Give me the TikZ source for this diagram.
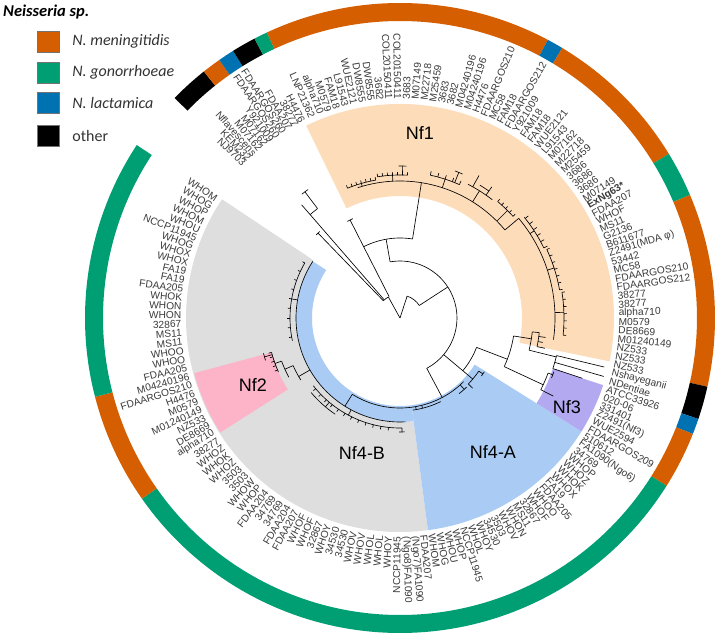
\documentclass[tikz,border=0pt]{standalone}
\usepackage{fontspec}
\setmainfont{Liberation Sans}
\newfontfamily\legfont{Carlito}
\usetikzlibrary{positioning}
\definecolor{nmOrange}{HTML}{D55E00}
\definecolor{ngGreen}{HTML}{009E73}
\definecolor{nlBlue}{HTML}{0072B2}
\definecolor{cladePeach}{HTML}{FDDCBA}
\definecolor{cladePink}{HTML}{FDB4C8}
\definecolor{cladeLav}{HTML}{B3A9F1}
\definecolor{cladeBlue}{HTML}{AACBF3}
\definecolor{cladeGray}{HTML}{DEDEDE}
\definecolor{leafInk}{HTML}{3A3A3A}
\tikzset{
  branch/.style={draw=black, line width=0.65pt},
  leaf/.style={font=\fontsize{10.2}{12}\selectfont, text=leafInk, inner sep=0.6pt},
  clade label/.style={font=\fontsize{18}{20}\selectfont, text=black},
  legend box/.style={draw=black!55, line width=0.4pt, minimum width=22pt, minimum height=21pt, inner sep=0pt},
  legend text/.style={font=\legfont\itshape\fontsize{16}{18}\selectfont, text=black!80, anchor=west, inner sep=0pt}
}
% filled annular sector: colour, inner r, outer r, from, to
\newcommand\sector[5]{\fill[#1] (#4:#2pt) arc[start angle=#4, end angle=#5, radius=#2pt] -- (#5:#3pt) arc[start angle=#5, end angle=#4, radius=#3pt] -- cycle;}
% radial branch: angle, r1, r2
\newcommand\rad[3]{\draw[branch] (#1:#2pt) -- (#1:#3pt);}
% arc branch: radius, from, to
\newcommand\arcb[3]{\draw[branch] (#2:#1pt) arc[start angle=#2, end angle=#3, radius=#1pt];}
% small cross bar at a tip: angle, radius, half width
\newcommand\tee[3]{\draw[branch] (#1-#3:#2pt) arc[start angle=#1-#3, end angle=#1+#3, radius=#2pt];}
% comb of short tips: from, to, step, radius, length
\newcommand\comb[5]{%
  \pgfmathsetmacro\combtop{#4+#5}\pgfmathsetmacro\combnext{#1+#3}%
  \foreach \ca in {#1,\combnext,...,#2} {\draw[branch] (\ca:#4pt) -- (\ca:\combtop pt);}}
% leaf label: angle, text, name
\newcommand\leaflab[3]{%
  \pgfmathtruncatemacro\lflip{cos(#1)<0}%
  \ifnum\lflip=0
    \node[leaf, anchor=west, rotate=#1] (#3) at (#1:218pt) {#2};
  \else
    \pgfmathsetmacro\lrot{#1+180}%
    \node[leaf, anchor=east, rotate=\lrot] (#3) at (#1:218pt) {#2};
  \fi}

\begin{document}
\begin{tikzpicture}[x=1pt,y=1pt]
  \useasboundingbox (-400,-319) rectangle (320,318);

  % clade backgrounds
  \sector{cladeGray}{104}{214}{146.3}{277.5}
  \sector{cladePink}{133}{213}{195}{212.5}
  \sector{cladeBlue}{88}{214}{-82.5}{-32}
  \sector{cladeBlue}{88}{104}{-213}{-82.5}
  \sector{cladePeach}{122}{214}{-11.7}{116}
  \sector{cladeLav}{161}{214}{-32}{-18.3}

  % root and outgroup
  \rad{119}{0}{24}
  \rad{72}{0}{23}
  \arcb{23}{33}{72}
  \arcb{24}{119}{134}
  \rad{134}{24}{118}
  \tee{134}{118}{1.2}
  \rad{131}{24}{137}
  \arcb{137}{127}{131}
  \rad{131}{137}{150}
  \rad{127}{137}{158}
  \tee{127}{158}{1.4}
  \rad{117}{24}{110}
  \tee{117}{110}{1.6}

  % backbone
  \rad{33}{23}{57}
  \arcb{57}{-62}{100}
  \rad{100}{57}{80}
  \arcb{80}{81}{117}

  % Nf1
  \rad{81}{80}{137}
  \arcb{137}{40}{108}
  \rad{106}{137}{140}
  \arcb{140}{100}{112}
  \comb{100}{112}{2}{140}{3}
  \rad{93}{137}{143}
  \arcb{143}{87}{99}
  \comb{87}{99}{2}{143}{3}
  \rad{89}{143}{152}
  \tee{89}{152}{1.5}
  \rad{72}{137}{146}
  \arcb{146}{66}{78}
  \comb{66}{78}{3}{146}{4}
  \rad{68}{146}{157}
  \tee{68}{157}{1.5}
  \rad{58}{137}{150}
  \arcb{150}{52}{63}
  \rad{61}{150}{163}
  \rad{55}{150}{160}
  \arcb{155}{55}{59}
  \rad{45}{137}{152}
  \arcb{152}{42}{50}
  \comb{42}{50}{2}{152}{3}
  \rad{40}{137}{155}
  \arcb{155}{-8}{40}
  \rad{33}{155}{160}
  \arcb{160}{26}{39}
  \comb{26}{39}{2.5}{160}{4}
  \rad{18}{155}{162}
  \arcb{162}{10}{25}
  \comb{10}{25}{2.5}{162}{3}
  \rad{2}{155}{164}
  \arcb{164}{-6}{9}
  \comb{-6}{9}{2.5}{164}{3}

  % NZ533, Nshayeganii group and Nf3
  \rad{-40}{57}{82}
  \arcb{82}{-21}{-40}
  \rad{-21}{82}{115}
  \arcb{115}{-9}{-25}
  \rad{-9}{115}{133}
  \arcb{133}{-6}{-14}
  \rad{-6}{133}{140}
  \arcb{140}{-6}{-11.8}
  \rad{-7.6}{140}{147}
  \rad{-9.7}{140}{145}
  \rad{-11.8}{140}{148}
  \rad{-14}{133}{161}
  \arcb{161}{-13.5}{-18.3}
  \rad{-13.5}{161}{210}
  \rad{-16}{161}{212}
  \rad{-18.3}{161}{192}
  \rad{-25}{115}{158}
  \arcb{158}{-20.4}{-27}
  \rad{-20.4}{158}{163}
  \tee{-20.4}{163}{1.2}
  \rad{-27}{158}{172}
  \rad{-40}{82}{95}
  \arcb{95}{-34}{-44}
  \rad{-34}{95}{100}
  \tee{-34}{100}{1.5}
  \rad{-44}{95}{101}

  % Nf4
  \rad{-62}{57}{90}
  \arcb{90}{-45}{-122}
  \rad{-48}{90}{96}
  \arcb{96}{-46}{-52}
  \comb{-80}{-76}{4}{90}{3}
  \arcb{93}{-64}{-82}
  \rad{-122}{90}{104}
  \arcb{104}{-87}{-213}
  \rad{-118}{104}{110}
  \arcb{110}{-89}{-142}
  \comb{-140}{-96}{4}{110}{3}
  \rad{-89}{110}{114}
  \tee{-89}{114}{1.5}
  \rad{-130}{110}{116}
  \arcb{116}{-124}{-140}
  \rad{-190}{104}{110}
  \arcb{110}{-168}{-210}
  \comb{-210}{-170}{5}{110}{2.5}

  % Nf2
  \rad{-150}{104}{117}
  \arcb{117}{-148}{-156}
  \rad{-156}{117}{126}
  \arcb{126}{-152}{-160}
  \rad{-160}{126}{133}
  \arcb{133}{-156}{-165}
  \comb{-165}{-157}{2}{133}{3}
  \rad{-164}{133}{141}
  \tee{-164}{141}{1.5}

  % leaf labels
  \foreach \t [count=\i] in {NJ9703,KEM232,Nflavescens,M07162,M07162,Y921009,FDAARGOS260,FDAARGOS260,FDAA207,38277,H4476} {
    \pgfmathsetmacro\a{135.4-1.89*(\i-1)}
    \leaflab{\a}{\t}{lfa\i}
  }
  \foreach \t [count=\i] in {LNP21362,alpha710,M0579,FAM18,L91543,WUE2121,DW8555,DW8555,3682,COL20150411,COL20150411,3683,M07149,M22718,M25459,3683,3682,M04240196,M04240196,H4476,FDAARGOS210,MC58,FAM18,FDAARGOS212,Y921009,FAM18,FAM18,WUE2121,L91543,M07162,M22718,M25459,3686,3686,3686,M07149} {
    \pgfmathsetmacro\a{113.7-2.308*(\i-1)}
    \leaflab{\a}{\t}{lfb\i}
  }
  \foreach \t [count=\i] in {{\bfseries ExNg63*},FDAA207,WHOF,MS11,G2136,B611677,Z2491(MDA φ),53442,MC58,FDAARGOS210,FDAARGOS212,38277,38277,alpha710,M0579,DE8669} {
    \pgfmathsetmacro\a{30.6-2.256*(\i-1)}
    \leaflab{\a}{\t}{lfc\i}
  }
  \foreach \t [count=\i] in {M01240149,NZ533,NZ533,NZ533,Nshayeganii,NDentiae,ATCC33926,020-06,331401,Z2491(Nf3),WUE2594,FDAARGOS209,510612,FA1090(Ngo6)} {
    \pgfmathsetmacro\a{-5.5-2.25*(\i-1)}
    \leaflab{\a}{\t}{lfd\i}
  }
  \foreach \t [count=\i] in {34769,WHOP,WHOZ,WHOK,WHOX,FA19,FDAA205,WHOO,WHOF,32867,MS11,WHON,WHOV,3503,34530,WHOY,WHOL,NCCP11945,WHOP,WHOU,WHOG,WHOM} {
    \pgfmathsetmacro\a{-36.93-2.13*(\i-1)}
    \leaflab{\a}{\t}{lfe\i}
  }
  \foreach \t [count=\i] in {FDAA207,(Ngo7)FA1090,(Ngo8)FA1090,NCCP11945,WHOY,WHOL,WHOL,WHOV,WHOV,34530,34530,WHOY,32867,WHOF,WHOF,FDAA207,FDAA204,34769,34769,FDAA204,WHOP,WHOW,3503,3503,WHOZ,WHOK,WHOZ,38277,alpha710,DE8669,NZ533,M01240149,M0579,H4476,FDAARGOS210,M04240196,FDAA205,WHOO,WHOO,MS11,MS11,32867,WHON,WHON,WHOK,FDAA205,FA19,FA19,WHOX,WHOX,WHOG,NCCP11945,WHOU,WHOM,WHOP,WHOG,WHOM} {
    \pgfmathsetmacro\a{-83.8-2.307*(\i-1)}
    \leaflab{\a}{\t}{lff\i}
  }

  % clade names
  \node[clade label] (nf1) at (20,185) {Nf1};
  \node[clade label] (nf2) at (-147,-67) {Nf2};
  \node[clade label] (nf3) at (167,-89) {Nf3};
  \node[clade label] (nf4a) at (93,-134) {Nf4-A};
  \node[clade label] (nf4b) at (-38,-135) {Nf4-B};

  % species ring
  \foreach \a/\b/\c in {128.5/135.7/black, 125/128.5/nmOrange, 122/125/nlBlue, 117.5/122/black, 115/117.5/ngGreen, 62/115/nmOrange, 59/62/nlBlue, 31.4/59/nmOrange, 23/31.4/ngGreen, -12.6/23/nmOrange, -18.7/-12.6/black, -21.6/-18.7/nlBlue, -32.2/-21.6/nmOrange, -145/-32.2/ngGreen, -165.5/-145/nmOrange, -213.3/-165.5/ngGreen} {
    \sector{\c}{297}{315}{\a}{\b}
  }

  % legend
  \node[font=\legfont\bfseries\itshape\fontsize{16.5}{18}\selectfont, anchor=west, inner sep=0pt] (legtitle) at (-397,306) {Neisseria sp.};
  \node[legend box, fill=nmOrange] (legbox1) at (-352,276.5) {};
  \node[legend box, fill=ngGreen] (legbox2) at (-352,245.5) {};
  \node[legend box, fill=nlBlue] (legbox3) at (-352,215) {};
  \node[legend box, fill=black] (legbox4) at (-352,182) {};
  \node[legend text, right=13pt of legbox1] (legtext1) {N. meningitidis};
  \node[legend text, right=13pt of legbox2] (legtext2) {N. gonorrhoeae};
  \node[legend text, right=13pt of legbox3] (legtext3) {N. lactamica};
  \node[legend text, right=13pt of legbox4, font=\legfont\fontsize{16}{18}\selectfont] (legtext4) {other};
\end{tikzpicture}
\end{document}
